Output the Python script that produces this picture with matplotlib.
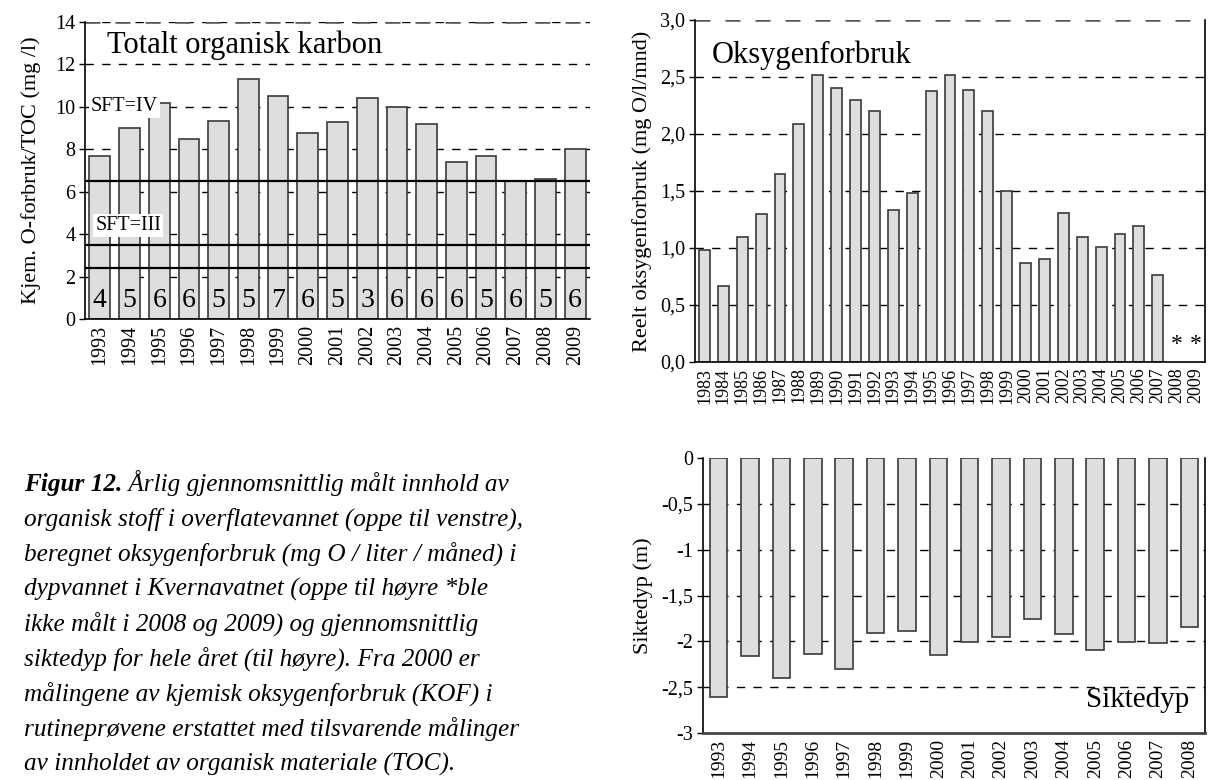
import matplotlib
matplotlib.use("Agg")
import matplotlib.pyplot as plt
import numpy as np

plt.rcParams['font.family'] = ['Liberation Serif', 'DejaVu Serif']

# --- data: TOC (top left)
toc_years = ['1993', '1994', '1995', '1996', '1997', '1998', '1999', '2000', '2001',
             '2002', '2003', '2004', '2005', '2006', '2007', '2008', '2009']
toc_values = [7.7, 9.0, 10.2, 8.5, 9.35, 11.3, 10.5, 8.75, 9.3,
              10.4, 10.0, 9.2, 7.4, 7.7, 6.5, 6.6, 8.0]
toc_counts = [4, 5, 6, 6, 5, 5, 7, 6, 5, 3, 6, 6, 6, 5, 6, 5, 6]
toc_limits = [6.5, 3.5, 2.4]
toc_yticks = [0, 2, 4, 6, 8, 10, 12, 14]

# --- data: oxygen consumption (top right)
oks_years = ['1983', '1984', '1985', '1986', '1987', '1988', '1989', '1990', '1991',
             '1992', '1993', '1994', '1995', '1996', '1997', '1998', '1999', '2000',
             '2001', '2002', '2003', '2004', '2005', '2006', '2007', '2008', '2009']
oks_values = [0.98, 0.67, 1.10, 1.30, 1.65, 2.09, 2.52, 2.40, 2.30,
              2.20, 1.33, 1.48, 2.38, 2.52, 2.39, 2.20, 1.50, 0.87,
              0.90, 1.31, 1.10, 1.01, 1.12, 1.19, 0.76, np.nan, np.nan]
oks_missing = ['2008', '2009']
oks_yticks = [0.0, 0.5, 1.0, 1.5, 2.0, 2.5, 3.0]
oks_yticklabels = ['0,0', '0,5', '1,0', '1,5', '2,0', '2,5', '3,0']

# --- data: Secchi depth (bottom right)
sikt_years = ['1993', '1994', '1995', '1996', '1997', '1998', '1999', '2000',
              '2001', '2002', '2003', '2004', '2005', '2006', '2007', '2008']
sikt_values = [-2.61, -2.16, -2.40, -2.14, -2.30, -1.91, -1.89, -2.15,
               -2.01, -1.95, -1.76, -1.92, -2.09, -2.01, -2.02, -1.84]
sikt_yticks = [-3, -2.5, -2, -1.5, -1, -0.5, 0]
sikt_yticklabels = ['-3', '-2,5', '-2', '-1,5', '-1', '-0,5', '0']

caption_lines = [
    "organisk stoff i overflatevannet (oppe til venstre),",
    "beregnet oksygenforbruk (mg O / liter / måned) i",
    "dypvannet i Kvernavatnet (oppe til høyre *ble",
    "ikke målt i 2008 og 2009) og gjennomsnittlig",
    "siktedyp for hele året (til høyre). Fra 2000 er",
    "målingene av kjemisk oksygenforbruk (KOF) i",
    "rutineprøvene erstattet med tilsvarende målinger",
    "av innholdet av organisk materiale (TOC).",
]

W, H = 1208, 780
fig = plt.figure(figsize=(W / 100, H / 100), dpi=100)


def px_axes(x0, y0, x1, y1):
    return fig.add_axes([x0 / W, 1 - y1 / H, (x1 - x0) / W, (y1 - y0) / H])


bar_kw = dict(facecolor='#dedede', edgecolor='#3a3a3a', linewidth=1.2, zorder=2)
dash = (0, (6, 6))


def style(ax):
    for s in ['top', 'right']:
        ax.spines[s].set_visible(False)
    ax.spines['left'].set_linewidth(1.2)
    ax.spines['bottom'].set_linewidth(1.2)
    ax.tick_params(axis='x', length=0, pad=4)
    ax.tick_params(axis='y', length=4, width=1, labelsize=14.5, pad=3)


# ---------- top left
ax1 = px_axes(85, 22, 590, 319)
x1 = np.arange(len(toc_years))
ax1.bar(x1, toc_values, width=0.7, **bar_kw)
for v in toc_yticks[1:]:
    ax1.axhline(v, color='black', lw=1, ls=dash, zorder=1)
ax1.axhline(14, color='#555555', lw=1.8, ls=dash, zorder=1)
for v in toc_limits:
    ax1.axhline(v, color='black', lw=1.6, zorder=3)
for xi, c in zip(x1, toc_counts):
    ax1.text(xi, 0.85, str(c), ha='center', va='center', fontsize=20, zorder=4)
ax1.set_xlim(-0.5, len(toc_years) - 0.5)
ax1.set_ylim(0, 14)
ax1.set_yticks(toc_yticks)
ax1.set_xticks(x1)
ax1.set_xticklabels(toc_years, rotation=90, fontsize=14.5)
ax1.set_ylabel('Kjem. O-forbruk/TOC (mg /l)', fontsize=16, labelpad=10)
style(ax1)
ax1.text(0.24, 12.9, 'Totalt organisk karbon', fontsize=22, va='center', zorder=5)
ax1.text(-0.3, 10, 'SFT=IV', fontsize=14.5, va='center', zorder=5,
         bbox=dict(facecolor='white', edgecolor='none', pad=1.5))
ax1.text(-0.15, 4.4, 'SFT=III', fontsize=14.5, va='center', zorder=5,
         bbox=dict(facecolor='white', edgecolor='none', pad=1.5))

# ---------- top right
ax2 = px_axes(695, 20, 1205, 362)
x2 = np.arange(len(oks_years))
ax2.bar(x2, oks_values, width=0.58, **bar_kw)
for v in oks_yticks[1:-1]:
    ax2.axhline(v, color='black', lw=1, ls=dash, zorder=1)
ax2.axhline(3.0, color='#555555', lw=1.8, ls=dash, zorder=1)
for yr in oks_missing:
    ax2.text(oks_years.index(yr), 0.15, '*', ha='center', va='center', fontsize=17)
ax2.set_xlim(-0.5, len(oks_years) - 0.5)
ax2.set_ylim(0, 3.0)
ax2.set_yticks(oks_yticks)
ax2.set_yticklabels(oks_yticklabels)
ax2.set_xticks(x2)
ax2.set_xticklabels(oks_years, rotation=90, fontsize=13)
ax2.set_ylabel('Reelt oksygenforbruk (mg O/l/mnd)', fontsize=16, labelpad=6)
style(ax2)
ax2.spines['right'].set_visible(True)
ax2.spines['right'].set_linewidth(1.2)
ax2.text(0.4, 2.69, 'Oksygenforbruk', fontsize=22, va='center', zorder=5)

# ---------- bottom right
ax3 = px_axes(703, 458, 1205, 733)
x3 = np.arange(len(sikt_years))
ax3.bar(x3, sikt_values, width=0.56, **bar_kw)
for v in sikt_yticks[1:-1]:
    ax3.axhline(v, color='black', lw=1, ls=dash, zorder=1)
ax3.set_xlim(-0.5, len(sikt_years) - 0.5)
ax3.set_ylim(-3, 0)
ax3.set_yticks(sikt_yticks)
ax3.set_yticklabels(sikt_yticklabels)
ax3.set_xticks(x3)
ax3.set_xticklabels(sikt_years, rotation=90, fontsize=14)
ax3.set_ylabel('Siktedyp (m)', fontsize=16, labelpad=6)
style(ax3)
ax3.spines['right'].set_visible(True)
ax3.spines['right'].set_linewidth(1.2)
ax3.spines['bottom'].set_color('#444444')
ax3.spines['bottom'].set_linewidth(2)
ax3.text(15.0, -2.64, 'Siktedyp', fontsize=21, ha='right', va='center', zorder=5)

# ---------- caption
cap_x = 24 / W
base0 = 491
step = 35.0
cap_fs = 18.2
t0 = fig.text(cap_x, 1 - base0 / H, 'Figur 12.', fontsize=cap_fs, fontweight='bold',
              fontstyle='italic', va='baseline')
fig.canvas.draw()
bb = t0.get_window_extent()
fig.text(bb.x1 / W, 1 - base0 / H, ' Årlig gjennomsnittlig målt innhold av',
         fontsize=cap_fs, fontstyle='italic', va='baseline')
for i, line in enumerate(caption_lines):
    fig.text(cap_x, 1 - (base0 + step * (i + 1)) / H, line, fontsize=cap_fs,
             fontstyle='italic', va='baseline')

fig.savefig('out.png', dpi=100)
